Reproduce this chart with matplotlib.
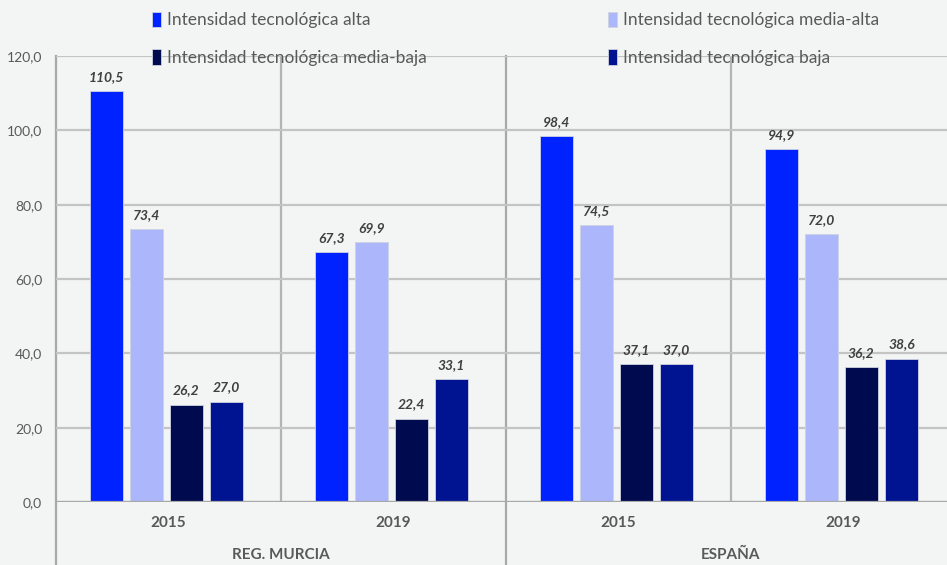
import matplotlib.pyplot as plt
import numpy as np

plt.rcParams['font.family'] = ['Lato', 'DejaVu Sans']

# datos
series = ['Intensidad tecnológica alta', 'Intensidad tecnológica media-alta',
          'Intensidad tecnológica media-baja', 'Intensidad tecnológica baja']
colores = ['#0022ff', '#abb6fb', '#000a4f', '#001390']
anios = ['2015', '2019', '2015', '2019']
regiones = ['REG. MURCIA', 'ESPAÑA']
alta = [110.5, 67.3, 98.4, 94.9]
media_alta = [73.4, 69.9, 74.5, 72.0]
media_baja = [26.2, 22.4, 37.1, 36.2]
baja = [27.0, 33.1, 37.0, 38.6]
valores = [alta, media_alta, media_baja, baja]

W, H = 947, 565
fig = plt.figure(figsize=(W / 100, H / 100), dpi=100, facecolor='#f3f4f4')
ax = fig.add_axes([56 / W, (H - 502) / H, (W - 56) / W, 446 / H])
ax.set_facecolor('#f3f4f4')

x = np.arange(len(anios))
paso = 0.178
ancho = 0.147
barras = []
for i, (vals, col) in enumerate(zip(valores, colores)):
    b = ax.bar(x + (i - 1.5) * paso - 0.01, vals, ancho, color=col,
               edgecolor='#cfd3e0', linewidth=0.6, zorder=3, label=series[i])
    barras.append(b)
    for xi, v in zip(x + (i - 1.5) * paso - 0.01, vals):
        ax.text(xi, v + 2.2, f'{v:.1f}'.replace('.', ','), ha='center', va='bottom',
                fontsize=10, fontstyle='italic', fontweight='bold', color='#404040')

ax.set_xlim(-0.5, 3.46)
ax.set_ylim(0, 120)
ax.set_yticks(np.arange(0, 121, 20))
ax.set_yticklabels([f'{v:.1f}'.replace('.', ',') for v in np.arange(0, 121, 20)],
                   fontsize=10, color='#595959')
ax.yaxis.grid(True, color='#c4c4c4', linewidth=1.6, zorder=0)
ax.tick_params(axis='y', length=0, pad=10)
ax.set_xticks(x)
ax.set_xticklabels(anios, fontsize=11, fontweight='bold', color='#595959')
ax.tick_params(axis='x', length=0, pad=10)
for s in ax.spines.values():
    s.set_visible(False)

# lineas verticales de separacion
ax.axvline(0.5, color='#b4b4b4', linewidth=1.6, zorder=1)
ax.axvline(2.5, color='#b4b4b4', linewidth=1.6, zorder=1)
for xv in (-0.5, 1.5):
    ax.axvline(xv, ymin=-0.15, ymax=1, color='#a8a8a8', linewidth=1.6,
               clip_on=False, zorder=1)
ax.axhline(0, color='#a8a8a8', linewidth=1.6, zorder=4)

for r, xc in zip(regiones, [281, 731]):
    fig.text(xc / W, 1 - 555 / H, r, ha='center', va='center', fontsize=11,
             fontweight='bold', color='#595959')

orden = [0, 2, 1, 3]
fig.legend([barras[k] for k in orden], [series[k] for k in orden], ncol=2,
           loc='upper left', bbox_to_anchor=(136 / W, 1 + 4 / H), frameon=False,
           fontsize=12.5, labelcolor='#595959', handlelength=0.55, handleheight=1.0,
           handletextpad=0.35, labelspacing=1.2, columnspacing=10.4)

fig.savefig('out.png', dpi=100, facecolor=fig.get_facecolor())
